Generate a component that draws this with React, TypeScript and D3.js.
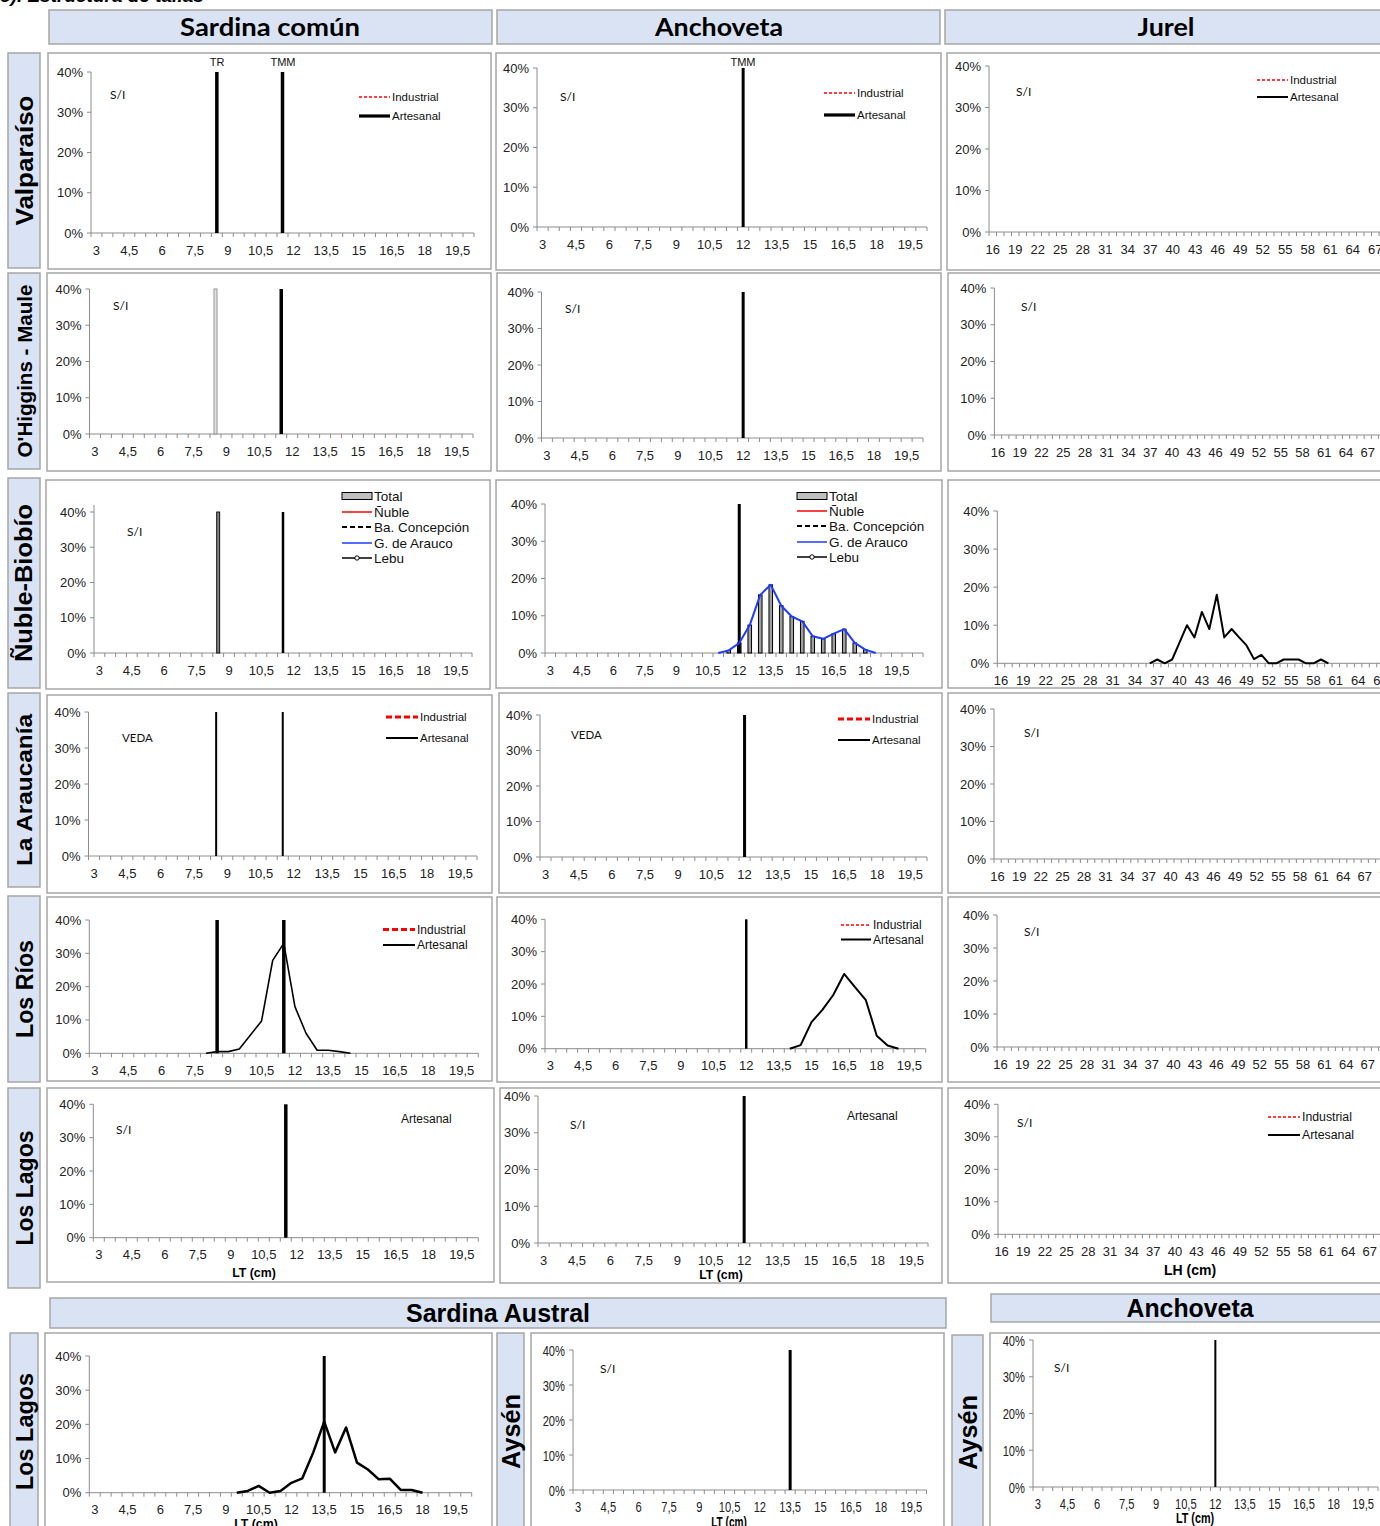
import * as d3 from "d3";

const ARIAL = "'Liberation Sans', Arial, sans-serif";
const CALIBRI = "Lato, 'Open Sans', sans-serif";
const AXIS = "#8c8c8c";
const BOX_FILL = "#dae3f3";
const BOX_LINE = "#a6a6a6";

// clases de talla
const tallasLT = d3.range(3, 20.01, 0.5); // 3 .. 20 cm
const tallasLT36 = d3.range(3, 20.51, 0.5); // 3 .. 20,5 cm
const tallasLH = d3.range(16, 71, 1); // 16 .. 70 cm
const yTicks = [0, 10, 20, 30, 40];

// tallas de referencia
const TR_SARDINA = 8.5;
const TMM_SARDINA = 11.5;
const TMM_ANCHOVETA = 12;
const TMM_AUSTRAL = 13.5;

// Anchoveta Ñuble-Biobío
const anchNubleTotalCat = [11.5, 12, 12.5, 13, 13.5, 14, 14.5, 15, 15.5, 16, 16.5, 17, 17.5, 18];
const anchNubleTotal = [0.7, 2.7, 7.5, 15.6, 18.3, 12.7, 9.8, 8.5, 4.5, 3.8, 5.2, 6.4, 2.7, 0.9];
const anchNubleAraucoCat = [11, 11.5, 12, 12.5, 13, 13.5, 14, 14.5, 15, 15.5, 16, 16.5, 17, 17.5, 18, 18.5];
const anchNubleArauco = [0, 0.7, 2.7, 7.5, 15.6, 18.3, 12.7, 9.8, 8.5, 4.5, 3.8, 5.2, 6.4, 2.7, 0.9, 0];

// Jurel Ñuble-Biobío
const jurelNubleCat = [36, 37, 38, 39, 40, 41, 42, 43, 44, 45, 46, 47, 48, 49, 50, 51, 52, 53, 54, 55, 56, 57, 58, 59, 60];
const jurelNubleArt = [0, 1, 0, 1, 5.5, 10, 6.8, 13.5, 9, 18, 6.8, 9, 6.8, 4.7, 1.1, 2.2, 0, 0, 1, 1, 1, 0, 0, 1, 0];

// Sardina común Los Ríos
const sardRiosCat = [8, 8.5, 9, 9.5, 10, 10.5, 11, 11.5, 12, 12.5, 13, 13.5, 14, 14.5];
const sardRiosArt = [0, 0.5, 0.5, 1.3, 5.5, 9.7, 27.9, 33, 14, 6, 0.9, 0.9, 0.5, 0];

// Anchoveta Los Ríos
const anchRiosCat = [14, 14.5, 15, 15.5, 16, 16.5, 17, 17.5, 18, 18.5, 19];
const anchRiosArt = [0, 1.1, 8.2, 12, 16.6, 23.1, 19, 15, 4, 1, 0];

// Sardina austral Los Lagos
const australLagosCat = [9.5, 10, 10.5, 11, 11.5, 12, 12.5, 13, 13.5, 14, 14.5, 15, 15.5, 16, 16.5, 17, 17.5, 18];
const australLagosArt = [0, 0.5, 2, 0, 0.5, 2.9, 4.2, 11.8, 20.8, 11.8, 19.1, 8.8, 6.8, 3.9, 4.1, 0.8, 0.8, 0];

type Series = { cats: number[]; vals: number[]; color: string; width: number; dash?: string };
type Ref = { v: number; width: number; kind?: "line" | "bar"; fill?: string; stroke?: string };
type LegendItem = { label: string; color?: string; width?: number; dash?: string; kind?: "line" | "box" | "marker" };
type Note = { t: string; x: number; y: number; fs?: number; font?: string; anchor?: string };
type Panel = {
  box: number[];
  px: [number, number];
  py: [number, number];
  cats: number[];
  every: number;
  yTop?: number;
  narrow?: boolean;
  refs?: Ref[];
  series?: Series[];
  bars?: { cats: number[]; vals: number[] };
  notes?: Note[];
  legend?: { x: number; len: number; ys: number[]; fs: number; items: LegendItem[] };
  xTitle?: { t: string; x: number; y: number; fs: number };
};

const IND_THIN: LegendItem = { label: "Industrial", color: "#ff0000", width: 1.5, dash: "3,2" };
const IND_THICK: LegendItem = { label: "Industrial", color: "#ff0000", width: 3, dash: "6,3" };
const ART_THICK: LegendItem = { label: "Artesanal", color: "#000", width: 3.2 };
const ART_MED: LegendItem = { label: "Artesanal", color: "#000", width: 2 };
const NUBLE_ITEMS: LegendItem[] = [
  { label: "Total", kind: "box" },
  { label: "Ñuble", color: "#ff0000", width: 1.5 },
  { label: "Ba. Concepción", color: "#000", width: 2, dash: "5,3" },
  { label: "G. de Arauco", color: "#1f3cff", width: 1.5 },
  { label: "Lebu", color: "#000", width: 1.5, kind: "marker" },
];

const si = (x: number, y: number): Note => ({ t: "S/I", x, y, fs: 12, font: CALIBRI });

const panels: Panel[] = [
  // Valparaíso
  {
    box: [48, 53, 491, 269], px: [91, 474], py: [233, 72], cats: tallasLT, every: 3,
    refs: [{ v: TR_SARDINA, width: 3.5 }, { v: TMM_SARDINA, width: 3.5 }],
    notes: [si(110, 94), { t: "TR", x: 217, y: 62, fs: 11, anchor: "middle" }, { t: "TMM", x: 283, y: 62, fs: 11, anchor: "middle" }],
    legend: { x: 359, len: 31, ys: [97, 116], fs: 11.5, items: [IND_THIN, ART_THICK] },
  },
  {
    box: [496, 53, 941, 270], px: [537, 927], py: [227, 68], cats: tallasLT, every: 3,
    refs: [{ v: TMM_ANCHOVETA, width: 3 }],
    notes: [si(560, 96), { t: "TMM", x: 743, y: 62, fs: 11, anchor: "middle" }],
    legend: { x: 824, len: 31, ys: [93, 115], fs: 11.5, items: [IND_THIN, ART_THICK] },
  },
  {
    box: [947, 53, 1390, 270], px: [989, 989 + 55 * 7.5], py: [232, 66], cats: tallasLH, every: 3,
    notes: [si(1016, 91)],
    legend: { x: 1257, len: 31, ys: [80, 97], fs: 11.5, items: [IND_THIN, ART_MED] },
  },
  // O'Higgins - Maule
  {
    box: [47, 273, 491, 471], px: [89.5, 473], py: [434, 289], cats: tallasLT, every: 3,
    refs: [{ v: TR_SARDINA, width: 3, kind: "bar", fill: "#e4e4e4", stroke: "#8c8c8c" }, { v: TMM_SARDINA, width: 3.5 }],
    notes: [si(113, 305)],
  },
  {
    box: [497, 273, 941, 471], px: [541.5, 923], py: [438, 292], cats: tallasLT, every: 3,
    refs: [{ v: TMM_ANCHOVETA, width: 3 }],
    notes: [si(565, 308)],
  },
  {
    box: [948, 273, 1390, 471], px: [994.4, 994.4 + 55 * 7.25], py: [435, 288], cats: tallasLH, every: 3,
    notes: [si(1021, 306)],
  },
  // Ñuble-Biobío
  {
    box: [46, 480, 490, 689], px: [94, 472], py: [653, 512], yTop: 42, cats: tallasLT, every: 3,
    refs: [{ v: TR_SARDINA, width: 3, kind: "bar", fill: "#808080", stroke: "#000" }, { v: TMM_SARDINA, width: 2.5 }],
    notes: [si(127, 531)],
    legend: { x: 342, len: 30, ys: [496, 512, 527, 543, 558], fs: 13.5, items: NUBLE_ITEMS },
  },
  {
    box: [496, 480, 942, 688], px: [545, 923], py: [653, 504], cats: tallasLT36, every: 3,
    refs: [{ v: TMM_ANCHOVETA, width: 3 }],
    bars: { cats: anchNubleTotalCat, vals: anchNubleTotal },
    series: [{ cats: anchNubleAraucoCat, vals: anchNubleArauco, color: "#1f3cff", width: 2 }],
    legend: { x: 797, len: 30, ys: [496, 511, 526, 542, 557], fs: 13.5, items: NUBLE_ITEMS },
  },
  {
    box: [948, 480, 1390, 688], px: [997.3, 997.3 + 55 * 7.44], py: [663.3, 511], cats: tallasLH, every: 3,
    series: [{ cats: jurelNubleCat, vals: jurelNubleArt, color: "#000", width: 2 }],
  },
  // La Araucanía
  {
    box: [47, 695, 492, 893], px: [88.5, 477], py: [856, 712], cats: tallasLT, every: 3,
    refs: [{ v: TR_SARDINA, width: 2 }, { v: TMM_SARDINA, width: 2 }],
    notes: [{ t: "VEDA", x: 122, y: 737, fs: 11.5, font: CALIBRI }],
    legend: { x: 386, len: 32, ys: [717, 738], fs: 11.5, items: [IND_THICK, ART_MED] },
  },
  {
    box: [499, 693, 942, 893], px: [540, 927], py: [857, 715], cats: tallasLT, every: 3,
    refs: [{ v: TMM_ANCHOVETA, width: 3 }],
    notes: [{ t: "VEDA", x: 571, y: 734, fs: 11.5, font: CALIBRI }],
    legend: { x: 838, len: 32, ys: [719, 740], fs: 11.5, items: [IND_THICK, ART_MED] },
  },
  {
    box: [948, 693, 1390, 893], px: [994, 994 + 55 * 7.2], py: [859, 709], cats: tallasLH, every: 3,
    notes: [si(1024, 732)],
  },
  // Los Ríos
  {
    box: [47, 897, 492, 1081], px: [89.3, 478.3], py: [1053.3, 920], cats: tallasLT, every: 3,
    refs: [{ v: TR_SARDINA, width: 3.5 }, { v: TMM_SARDINA, width: 3.5 }],
    series: [{ cats: sardRiosCat, vals: sardRiosArt, color: "#000", width: 1.6 }],
    legend: { x: 383, len: 32, ys: [929.5, 945], fs: 12, items: [IND_THICK, ART_MED] },
  },
  {
    box: [497, 897, 942, 1082], px: [545, 925.7], py: [1048.7, 919.3], cats: tallasLT, every: 3,
    refs: [{ v: TMM_ANCHOVETA, width: 2.5 }],
    series: [{ cats: anchRiosCat, vals: anchRiosArt, color: "#000", width: 2 }],
    legend: { x: 841, len: 30, ys: [925, 939.5], fs: 12, items: [IND_THIN, ART_MED] },
  },
  {
    box: [948, 897, 1390, 1082], px: [997, 997 + 55 * 7.2], py: [1047, 915], cats: tallasLH, every: 3,
    notes: [si(1024, 931)],
  },
  // Los Lagos
  {
    box: [47, 1088, 494, 1282], px: [93.3, 478.3], py: [1237.7, 1104.3], cats: tallasLT, every: 3,
    refs: [{ v: TMM_SARDINA, width: 3.5 }],
    notes: [si(116, 1129), { t: "Artesanal", x: 401, y: 1119, fs: 12 }],
    xTitle: { t: "LT (cm)", x: 254, y: 1273, fs: 12.3 },
  },
  {
    box: [500, 1088, 942, 1283], px: [538, 928], py: [1243, 1096], cats: tallasLT, every: 3,
    refs: [{ v: TMM_ANCHOVETA, width: 3 }],
    notes: [si(570, 1124), { t: "Artesanal", x: 847, y: 1116, fs: 12 }],
    xTitle: { t: "LT (cm)", x: 721, y: 1275, fs: 12.3 },
  },
  {
    box: [948, 1088, 1390, 1283], px: [998, 998 + 55 * 7.22], py: [1234.3, 1104.3], cats: tallasLH, every: 3,
    notes: [si(1017, 1122)],
    legend: { x: 1268, len: 32, ys: [1117, 1135], fs: 12.3, items: [IND_THIN, ART_MED] },
    xTitle: { t: "LH (cm)", x: 1190, y: 1270, fs: 14 },
  },
  // Sardina austral y anchoveta (sur)
  {
    box: [45, 1333, 492, 1540], px: [89.3, 471.7], py: [1492.7, 1356], cats: tallasLT, every: 3,
    refs: [{ v: TMM_AUSTRAL, width: 3 }],
    series: [{ cats: australLagosCat, vals: australLagosArt, color: "#000", width: 2.5 }],
    xTitle: { t: "LT (cm)", x: 256, y: 1524, fs: 12.3 },
  },
  {
    box: [531, 1333, 944, 1540], px: [573, 926.5], py: [1490, 1350], cats: tallasLT, every: 3, narrow: true,
    refs: [{ v: TMM_AUSTRAL, width: 3 }],
    notes: [si(600, 1368)],
    xTitle: { t: "LT (cm)", x: 729, y: 1522, fs: 14 },
  },
  {
    box: [990, 1333, 1390, 1540], px: [1033, 1378], py: [1487, 1340], cats: tallasLT, every: 3, narrow: true,
    refs: [{ v: TMM_ANCHOVETA, width: 2 }],
    notes: [si(1054, 1367)],
    xTitle: { t: "LT (cm)", x: 1195, y: 1518, fs: 15 },
  },
];

const headers = [
  { t: "Sardina común", box: [49, 10, 492, 44], cx: 270, len: 180, fs: 25, narrow: false },
  { t: "Anchoveta", box: [497, 10, 940, 44], cx: 719, len: 128, fs: 25, narrow: false },
  { t: "Jurel", box: [945, 10, 1390, 44], cx: 1166, len: 57, fs: 25, narrow: false },
  { t: "Sardina Austral", box: [50, 1298, 946, 1328], cx: 498, len: 184, fs: 25, narrow: true },
  { t: "Anchoveta", box: [991, 1294, 1390, 1322], cx: 1190, len: 127, fs: 25, narrow: true },
];

const rowLabels = [
  { t: "Valparaíso", box: [8, 53, 40, 268], len: 130, fs: 24 },
  { t: "O'Higgins - Maule", box: [8, 273, 40, 469], len: 173, fs: 21 },
  { t: "Ñuble-Biobío", box: [8, 478, 40, 688], len: 158, fs: 23 },
  { t: "La Araucanía", box: [8, 693, 40, 887], len: 152, fs: 22 },
  { t: "Los Ríos", box: [8, 896, 40, 1082], len: 98, fs: 24 },
  { t: "Los Lagos", box: [8, 1088, 40, 1288], len: 115, fs: 24 },
  { t: "Los Lagos", box: [10, 1333, 38, 1530], len: 117, fs: 24 },
  { t: "Aysén", box: [497, 1333, 524, 1530], len: 75, fs: 25 },
  { t: "Aysén", box: [952, 1335, 983, 1530], len: 75, fs: 25 },
];

const fmt = (v: number) => String(v).replace(".", ",");

function Legend({ lg }: { lg: NonNullable<Panel["legend"]> }) {
  return (
    <g>
      {lg.items.map((it, i) => {
        const y = lg.ys[i];
        const x2 = lg.x + lg.len;
        return (
          <g key={i}>
            {it.kind === "box" ? (
              <rect x={lg.x} y={y - 3.5} width={lg.len} height={7} fill="#bfbfbf" stroke="#000" strokeWidth={1} />
            ) : (
              <line x1={lg.x} x2={x2} y1={y} y2={y} stroke={it.color} strokeWidth={it.width} strokeDasharray={it.dash} />
            )}
            {it.kind === "marker" && <circle cx={(lg.x + x2) / 2} cy={y} r={2.2} fill="#fff" stroke="#000" strokeWidth={1} />}
            <text x={x2 + 2} y={y} dominantBaseline="central" fontSize={lg.fs} fontFamily={ARIAL} fill="#111">
              {it.label}
            </text>
          </g>
        );
      })}
    </g>
  );
}

function ChartPanel({ p }: { p: Panel }) {
  const x = d3.scaleBand<number>().domain(p.cats).range(p.px).paddingInner(0).paddingOuter(0);
  const bw = x.bandwidth();
  const cx = (v: number) => (x(v) ?? 0) + bw / 2;
  const y = d3.scaleLinear().domain([0, 40]).range(p.py);
  const [x0, x1] = p.px;
  const yb = y(0);
  const sx = p.narrow ? 0.72 : 1;
  const fs = p.narrow ? 15.5 : 13;
  const line = d3
    .line<[number, number]>()
    .x((d) => cx(d[0]))
    .y((d) => y(d[1]));
  const boundaries = [...p.cats.map((c) => x(c) as number), x1];

  return (
    <g>
      <rect x={p.box[0]} y={p.box[1]} width={p.box[2] - p.box[0]} height={p.box[3] - p.box[1]} fill="#fff" stroke={BOX_LINE} strokeWidth={1.5} />

      {/* eje Y */}
      <line x1={x0} x2={x0} y1={yb} y2={y(p.yTop ?? 40)} stroke={AXIS} />
      {yTicks.map((t) => (
        <g key={t}>
          <line x1={x0 - 4} x2={x0} y1={y(t)} y2={y(t)} stroke={AXIS} />
          <text
            transform={`translate(${x0 - 8},${y(t) + (p.narrow ? 5.5 : 4.5)}) scale(${sx},1)`}
            textAnchor="end"
            fontSize={fs}
            fontFamily={ARIAL}
            fill="#222"
          >
            {t}%
          </text>
        </g>
      ))}

      {/* eje X */}
      <line x1={x0} x2={x1} y1={yb} y2={yb} stroke={AXIS} />
      {boundaries.map((bx, i) => (
        <line key={i} x1={bx} x2={bx} y1={yb} y2={yb + 4} stroke={AXIS} />
      ))}
      {p.cats
        .filter((_, i) => i % p.every === 0)
        .map((c) => (
          <text
            key={c}
            transform={`translate(${cx(c)},${yb + (p.narrow ? 22 : 21.5)}) scale(${sx},1)`}
            textAnchor="middle"
            fontSize={fs}
            fontFamily={ARIAL}
            fill="#222"
          >
            {fmt(c)}
          </text>
        ))}

      {/* barras */}
      {p.bars &&
        p.bars.cats.map((c, i) => (
          <rect
            key={c}
            x={cx(c) - bw * 0.17}
            width={bw * 0.34}
            y={y(p.bars!.vals[i])}
            height={yb - y(p.bars!.vals[i])}
            fill="#a0a0a0"
            stroke="#000"
            strokeWidth={1}
          />
        ))}

      {/* tallas de referencia */}
      {(p.refs ?? []).map((r, i) =>
        r.kind === "bar" ? (
          <rect key={i} x={cx(r.v) - r.width / 2} y={y(40)} width={r.width} height={yb - y(40)} fill={r.fill} stroke={r.stroke} strokeWidth={0.9} />
        ) : (
          <line key={i} x1={cx(r.v)} x2={cx(r.v)} y1={yb} y2={y(40)} stroke="#000" strokeWidth={r.width} />
        )
      )}

      {/* series */}
      {(p.series ?? []).map((s, i) => (
        <path
          key={i}
          d={line(s.cats.map((c, j) => [c, s.vals[j]] as [number, number])) ?? ""}
          fill="none"
          stroke={s.color}
          strokeWidth={s.width}
          strokeDasharray={s.dash}
          strokeLinejoin="round"
        />
      ))}

      {(p.notes ?? []).map((n, i) => (
        <text
          key={i}
          x={n.x}
          y={n.y}
          dominantBaseline="central"
          textAnchor={n.anchor ?? "start"}
          fontSize={n.fs ?? 11}
          fontFamily={n.font ?? ARIAL}
          fill="#111"
        >
          {n.t}
        </text>
      ))}

      {p.legend && <Legend lg={p.legend} />}

      {p.xTitle && (
        <text
          transform={`translate(${p.xTitle.x},${p.xTitle.y}) scale(${sx},1)`}
          dominantBaseline="central"
          textAnchor="middle"
          fontSize={p.xTitle.fs}
          fontWeight="bold"
          fontFamily={ARIAL}
        >
          {p.xTitle.t}
        </text>
      )}
    </g>
  );
}

export default function App() {
  return (
    <svg width={1380} height={1526} style={{ position: "absolute", left: 0, top: 0, background: "#fff" }}>
      <rect width={1380} height={1526} fill="#fff" />
      <text x={0} y={2} fontSize={19} fontWeight="bold" fontStyle="italic" fontFamily={ARIAL}>
        c).  Estructura de tallas
      </text>

      {headers.map((h, i) => (
        <g key={i}>
          <rect x={h.box[0]} y={h.box[1]} width={h.box[2] - h.box[0]} height={h.box[3] - h.box[1]} fill={BOX_FILL} stroke={BOX_LINE} strokeWidth={1.5} />
          <text
            x={h.cx}
            y={(h.box[1] + h.box[3]) / 2}
            dy="0.35em"
            textAnchor="middle"
            fontSize={h.fs}
            fontWeight="bold"
            fontFamily={h.narrow ? ARIAL : CALIBRI}
            textLength={h.len}
            lengthAdjust="spacingAndGlyphs"
          >
            {h.t}
          </text>
        </g>
      ))}

      {rowLabels.map((r, i) => {
        const cxr = (r.box[0] + r.box[2]) / 2;
        const cyr = (r.box[1] + r.box[3]) / 2;
        return (
          <g key={i}>
            <rect x={r.box[0]} y={r.box[1]} width={r.box[2] - r.box[0]} height={r.box[3] - r.box[1]} fill={BOX_FILL} stroke={BOX_LINE} strokeWidth={1.5} />
            <text
              transform={`translate(${cxr},${cyr}) rotate(-90)`}
              dy="0.36em"
              textAnchor="middle"
              fontSize={r.fs}
              fontWeight="bold"
              fontFamily={ARIAL}
              textLength={r.len}
              lengthAdjust="spacingAndGlyphs"
            >
              {r.t}
            </text>
          </g>
        );
      })}

      {panels.map((p, i) => (
        <ChartPanel key={i} p={p} />
      ))}
    </svg>
  );
}
